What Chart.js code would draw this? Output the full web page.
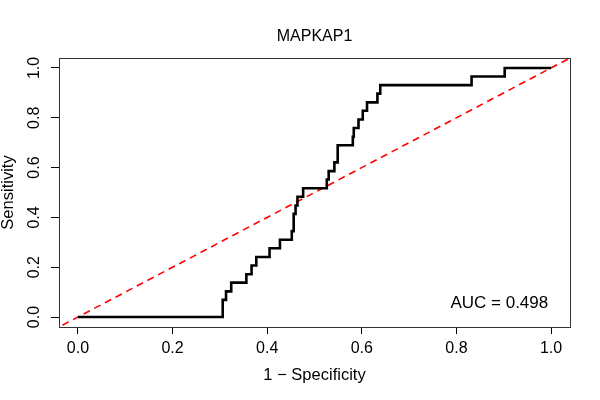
<!DOCTYPE html>
<html>
<head>
<meta charset="utf-8">
<script src="https://cdn.jsdelivr.net/npm/chart.js@4"></script>
<style>
  html, body { margin: 0; padding: 0; background: #fff; }
  #wrap { width: 600px; height: 400px; }
</style>
</head>
<body>
<div id="wrap"><canvas id="RocChart"></canvas></div>
<script>
// ROC curve vertices (1 - specificity, sensitivity)
var fpr = [0, 0.306, 0.313, 0.324, 0.356, 0.367, 0.377, 0.405, 0.427, 0.452, 0.456, 0.460, 0.464, 0.476,
           0.526, 0.530, 0.542, 0.549, 0.581, 0.583, 0.593, 0.602, 0.611, 0.633, 0.639, 0.832, 0.902, 1.0];
var tpr = [0, 0.069, 0.103, 0.138, 0.172, 0.207, 0.241, 0.276, 0.310, 0.345, 0.414, 0.448, 0.483, 0.517,
           0.552, 0.586, 0.621, 0.690, 0.724, 0.759, 0.793, 0.828, 0.862, 0.897, 0.931, 0.966, 1.0, 1.0];
var diagX = [-0.1, 1.1];
var diagY = [-0.1, 1.1];
var tickValues = [0, 0.2, 0.4, 0.6, 0.8, 1.0];
var titleText = "MAPKAP1";
var aucText = "AUC = 0.498";

var font = "'Liberation Sans', Arial, Helvetica, sans-serif";
Chart.defaults.font.family = font;
Chart.defaults.color = "#000";

function points(xs, ys) {
  return xs.map(function (x, i) { return { x: x, y: ys[i] }; });
}

function fixedTicks(scale) {
  scale.ticks = tickValues.map(function (v) { return { value: v }; });
}

// box around plot region, title over the plot, AUC label
var extras = {
  id: "extras",
  afterDraw: function (chart) {
    var ctx = chart.ctx, a = chart.chartArea;
    ctx.save();
    ctx.strokeStyle = "#333";
    ctx.lineWidth = 1;
    ctx.strokeRect(Math.round(a.left) + 0.5, Math.round(a.top) + 0.5,
                   Math.round(a.right - a.left), Math.round(a.bottom - a.top));
    ctx.fillStyle = "#000";
    ctx.textAlign = "center";
    ctx.textBaseline = "middle";
    ctx.font = "16px " + font;
    ctx.fillText(titleText, (a.left + a.right) / 2, 37);
    ctx.font = "17px " + font;
    ctx.textAlign = "right";
    ctx.fillText(aucText, chart.scales.x.getPixelForValue(0.994), chart.scales.y.getPixelForValue(0.056));
    ctx.restore();
  }
};

var ctx = document.getElementById("RocChart").getContext("2d");
var chart = new Chart(ctx, {
  type: "scatter",
  data: {
    datasets: [
      {
        data: points(fpr, tpr),
        showLine: true,
        stepped: true,
        borderColor: "#000",
        borderWidth: 2.6,
        pointRadius: 0,
        fill: false
      },
      {
        data: points(diagX, diagY),
        showLine: true,
        borderColor: "#ff0000",
        borderWidth: 1.6,
        borderDash: [7, 5],
        pointRadius: 0,
        fill: false
      }
    ]
  },
  options: {
    responsive: true,
    maintainAspectRatio: false,
    animation: false,
    layout: { padding: { top: 58, right: 30, bottom: 0, left: 0 } },
    plugins: {
      legend: { display: false },
      tooltip: { enabled: false },
      title: { display: false }
    },
    scales: {
      x: {
        type: "linear",
        min: -0.04,
        max: 1.04,
        afterBuildTicks: fixedTicks,
        afterFit: function (s) { s.height = 73; },
        border: { display: false },
        grid: { drawOnChartArea: false, drawTicks: true, tickLength: 7, color: "#000" },
        ticks: {
          font: { size: 16 },
          color: "#000",
          padding: 5,
          maxRotation: 0,
          callback: function (v) { return Number(v).toFixed(1); }
        },
        title: { display: true, text: "1 − Specificity", font: { size: 16.5 }, color: "#000", padding: { top: 0, bottom: 15 } }
      },
      y: {
        type: "linear",
        min: -0.04,
        max: 1.04,
        afterBuildTicks: fixedTicks,
        afterFit: function (s) { s.width = 59; },
        border: { display: false },
        grid: { drawOnChartArea: false, drawTicks: true, tickLength: 8, color: "#000" },
        ticks: {
          font: { size: 16 },
          color: "#000",
          padding: 5,
          minRotation: 90,
          maxRotation: 90,
          crossAlign: "center",
          callback: function (v) { return Number(v).toFixed(1); }
        },
        title: { display: true, text: "Sensitivity", font: { size: 16.5 }, color: "#000", padding: { top: -1, bottom: 0 } }
      }
    }
  },
  plugins: [extras]
});
</script>
</body>
</html>
